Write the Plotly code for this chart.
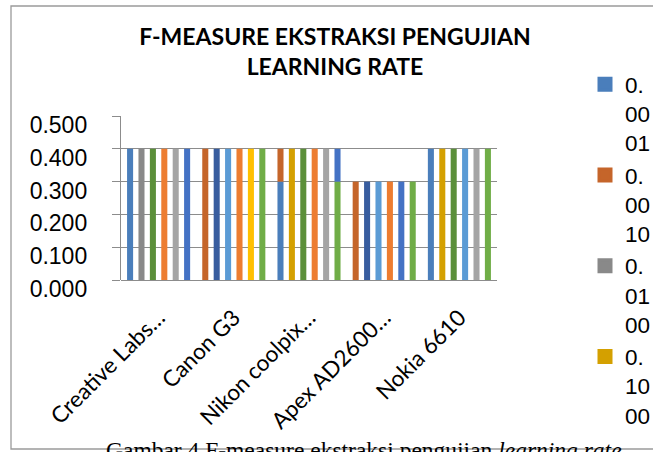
import plotly.graph_objects as go

# ---------------- data ----------------
categories = ["Creative Labs…", "Canon G3", "Nikon coolpix…", "Apex AD2600…", "Nokia 6610"]

# bar heights per slot inside each product cluster (F-measure)
slot1 = [0.4, 0.4, 0.3, 0.3, 0.4]
slot2 = [0.4, 0.4, 0.4, 0.3, 0.4]
slot3 = [0.4, 0.4, 0.4, 0.3, 0.4]
slot4 = [0.4, 0.4, 0.4, 0.3, 0.4]
slot5 = [0.4, 0.4, 0.4, 0.3, 0.4]
slot6 = [0.4, 0.4, 0.3, 0.3, 0.4]
# bars that show a taller value behind a shorter one (top part)
slot1_top = [None, None, 0.4, None, None]
slot6_top = [None, None, 0.4, None, None]

legend_names = ["0.0001", "0.0010", "0.0100", "0.1000"]
y_ticks = [0.0, 0.1, 0.2, 0.3, 0.4, 0.5]

# ---------------- styles ----------------
SB, DO, GR, GD = "#4A7EBB", "#C5652A", "#898989", "#D4A000"
DG, OR, LG, BL = "#5B8F3A", "#ED7D31", "#A5A5A5", "#4472C4"
DB, LB, YE, GN = "#385D9F", "#5B9BD5", "#FFC000", "#70AD47"

slot_colors = [
    [SB, DO, SB, DO, SB],
    [GR, DB, GD, DB, GD],
    [DG, LB, DG, LB, DG],
    [OR, OR, OR, OR, LB],
    [LG, YE, LG, BL, LG],
    [BL, GN, GN, GN, GN],
]
legend_colors = [SB, DO, GR, GD]

W, H = 653, 452
L, R, T, B = 121, 156, 116, 172
PW, PH = W - L - R, H - T - B


def px_x(px):
    return (px - L) / PW


def px_y(py):
    return 1 - (py - T) / PH


fig = go.Figure()
slots = [slot1, slot2, slot3, slot4, slot5, slot6]
for i, vals in enumerate(slots):
    fig.add_trace(go.Bar(
        x=categories, y=vals, offsetgroup=f"s{i+1}",
        marker=dict(color=slot_colors[i], line=dict(width=0)),
        showlegend=False, hoverinfo="x+y",
    ))

for grp, low, top, col in [("s1", slot1, slot1_top, DO), ("s6", slot6, slot6_top, BL)]:
    fig.add_trace(go.Bar(
        x=categories,
        y=[(t - l) if t is not None else None for t, l in zip(top, low)],
        base=low, offsetgroup=grp,
        marker=dict(color=col, line=dict(width=0)),
        showlegend=False,
    ))

for name, col in zip(legend_names, legend_colors):
    label = name[:2] + "<br>" + name[2:4] + "<br>" + name[4:]
    fig.add_trace(go.Bar(
        x=[categories[0]], y=[None], offsetgroup="s1", name=label,
        marker=dict(color=col, line=dict(color=col, width=3)),
        showlegend=True,
    ))

grid_col = "#8C8C8C"
fig.update_layout(
    width=W, height=H,
    margin=dict(l=L, r=R, t=T, b=B, autoexpand=False),
    paper_bgcolor="white", plot_bgcolor="white",
    barmode="group", bargap=0.09, bargroupgap=0.47,
    title=dict(
        text="F-MEASURE EKSTRAKSI PENGUJIAN<br>LEARNING RATE",
        font=dict(family="Lato", size=23, color="#000000", weight="bold"),
        x=335 / W, xanchor="center", xref="container",
        y=1 - 45 / H, yanchor="top", yref="container",
    ),
    legend=dict(
        xref="container", yref="container",
        x=585 / W, xanchor="left", y=1 - 63 / H, yanchor="top",
        font=dict(family="Liberation Sans", size=22.5, color="#000000"),
        valign="top", itemwidth=30, tracegroupgap=0,
        bgcolor="rgba(0,0,0,0)", maxheight=1.0,
    ),
    font=dict(family="Liberation Sans", color="#000000"),
    shapes=[dict(
        type="rect", xref="paper", yref="paper",
        x0=px_x(11), x1=px_x(720), y0=px_y(449), y1=px_y(6),
        line=dict(color="#9A9A9A", width=1.3), fillcolor="rgba(0,0,0,0)",
        layer="below",
    )],
    annotations=[dict(
        text="Gambar 4 F-measure ekstraksi pengujian <i>learning rate</i>",
        xref="paper", yref="paper", x=px_x(364), y=px_y(435),
        xanchor="center", yanchor="top", showarrow=False,
        font=dict(family="Liberation Serif", size=23.5, color="#000000"),
    )],
)

fig.update_xaxes(
    type="category", tickangle=-45,
    tickfont=dict(family="Lato", size=22.5, color="#000000"),
    showline=False, showgrid=False, ticks="", ticklabelstandoff=19,
)
fig.update_yaxes(
    range=[0, 0.5], tickvals=y_ticks, tickformat=".3f",
    tickfont=dict(family="Liberation Sans", size=23, color="#000000"),
    showgrid=True, gridcolor=grid_col, gridwidth=1.4,
    showline=True, linecolor=grid_col, linewidth=1.4,
    ticks="outside", ticklen=8, tickcolor=grid_col, tickwidth=1.4,
    ticklabelshift=9, ticklabelstandoff=20,
    zeroline=True, zerolinecolor=grid_col, zerolinewidth=1.4,
)

fig.write_html(
    "out.html",
    config={"displayModeBar": False},
    post_script="document.body.style.margin='0px';",
)
